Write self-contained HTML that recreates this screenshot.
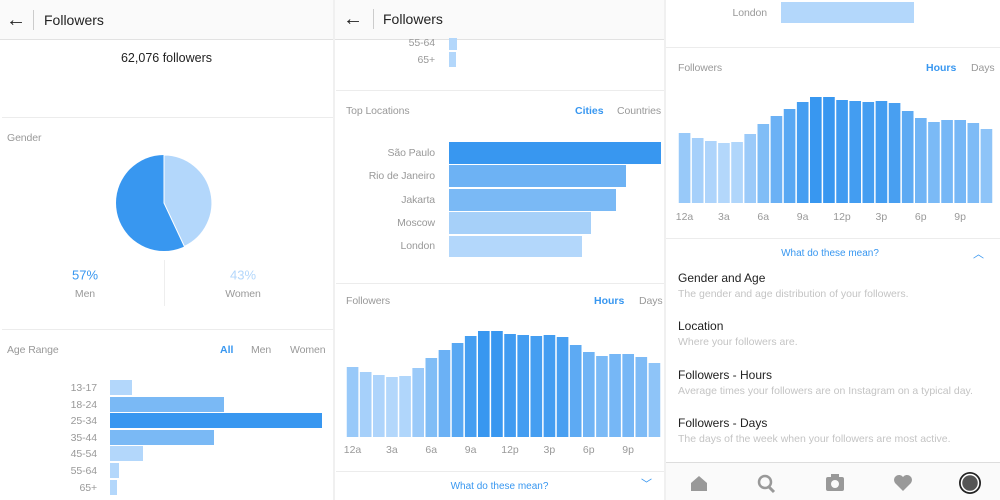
<!DOCTYPE html>
<html><head><meta charset="utf-8">
<style>
*{margin:0;padding:0;box-sizing:border-box}
body{width:1000px;height:500px;background:#fff;position:relative;overflow:hidden;font-family:"Liberation Sans",sans-serif}
.t{position:absolute;white-space:nowrap;line-height:1;transform:translateY(-50%)}
.g{color:#999;font-size:10.5px;letter-spacing:-0.1px}
.b{color:#3897f0;font-size:10.5px;font-weight:bold}
.hl{position:absolute;height:1px;background:#ececec}
.r{position:absolute}
.hdr{position:absolute;top:0;height:40px;background:#fafafa;border-bottom:1px solid #e2e2e2}
</style></head><body>
<div class="r" style="left:333px;top:0;width:2px;height:500px;background:#f0f0f0"></div>
<div class="r" style="left:664px;top:0;width:2px;height:500px;background:#f0f0f0"></div>

<!-- LEFT -->
<div class="hdr" style="left:0;width:333px"></div>
<div class="t" style="left:6px;top:20px;font-size:20px;color:#222">←</div>
<div class="r" style="left:33px;top:10px;width:1px;height:20px;background:#ccc"></div>
<div class="t" style="left:44px;top:20px;font-size:14px;color:#222">Followers</div>
<div class="t" style="left:0;width:333px;text-align:center;top:58px;font-size:12.5px;color:#222">62,076 followers</div>
<div class="hl" style="left:2px;width:331px;top:117px"></div>
<div class="t g" style="left:7px;top:138px">Gender</div>
<svg class="r" style="left:0;top:0" width="333" height="260">
<circle cx="164" cy="203" r="48" fill="#3897f0"/>
<path d="M164 203 L164 155 A48 48 0 0 1 184.4 246.4 Z" fill="#b3d7fb" stroke="#fff" stroke-width="1"/>
</svg>
<div class="t" style="left:0;width:170px;text-align:center;top:275px;font-size:13px;color:#3897f0">57%</div>
<div class="t g" style="left:0;width:170px;text-align:center;top:294px">Men</div>
<div class="t" style="left:158px;width:170px;text-align:center;top:275px;font-size:13px;color:#b3d7fb">43%</div>
<div class="t g" style="left:158px;width:170px;text-align:center;top:294px">Women</div>
<div class="r" style="left:164px;top:260px;width:1px;height:46px;background:#eee"></div>
<div class="hl" style="left:2px;width:331px;top:329px"></div>
<div class="t g" style="left:7px;top:350px">Age Range</div>
<div class="t b" style="left:220px;top:350px">All</div>
<div class="t g" style="left:251px;top:350px">Men</div>
<div class="t g" style="left:290px;top:350px">Women</div>
<div id="age"></div>

<!-- MIDDLE -->
<div class="hdr" style="left:335px;width:329px"></div>
<div class="t" style="left:343px;top:19px;font-size:20px;color:#222">←</div>
<div class="r" style="left:373px;top:9px;width:1px;height:20px;background:#ccc"></div>
<div class="t" style="left:383px;top:19px;font-size:14px;color:#222">Followers</div>
<div class="t g" style="left:380px;width:55px;text-align:right;top:43px">55-64</div>
<div class="r" style="left:449px;top:38px;width:8px;height:12px;background:#b3d7fb"></div>
<div class="t g" style="left:380px;width:55px;text-align:right;top:60px">65+</div>
<div class="r" style="left:449px;top:52px;width:7px;height:15px;background:#b3d7fb"></div>
<div class="hl" style="left:336px;width:328px;top:90px"></div>
<div class="t g" style="left:346px;top:111px">Top Locations</div>
<div class="t b" style="left:575px;top:111px">Cities</div>
<div class="t g" style="left:617px;top:111px">Countries</div>
<div class="t g" style="left:340px;width:95px;text-align:right;top:153px">São Paulo</div>
<div class="r" style="left:449px;top:142px;width:212px;height:22px;background:#3897f0"></div>
<div class="t g" style="left:340px;width:95px;text-align:right;top:176px">Rio de Janeiro</div>
<div class="r" style="left:449px;top:165px;width:177px;height:22px;background:#6db2f4"></div>
<div class="t g" style="left:340px;width:95px;text-align:right;top:200px">Jakarta</div>
<div class="r" style="left:449px;top:189px;width:167px;height:22px;background:#7ab9f5"></div>
<div class="t g" style="left:340px;width:95px;text-align:right;top:223px">Moscow</div>
<div class="r" style="left:449px;top:212px;width:142px;height:22px;background:#a6d0f9"></div>
<div class="t g" style="left:340px;width:95px;text-align:right;top:246px">London</div>
<div class="r" style="left:449px;top:236px;width:133px;height:21px;background:#b3d7fb"></div>
<div class="hl" style="left:336px;width:328px;top:283px"></div>
<div class="t g" style="left:346px;top:301px">Followers</div>
<div class="t b" style="left:594px;top:301px">Hours</div>
<div class="t g" style="left:639px;top:301px">Days</div>
<svg id="c1" class="r" style="left:0;top:0" width="1000" height="500"></svg>
<div class="hl" style="left:336px;width:328px;top:471px"></div>
<div class="t" style="left:335px;width:329px;text-align:center;top:487px;font-size:10px;color:#3897f0">What do these mean?</div>
<div class="t" style="left:641px;top:485px;font-size:11px;color:#3897f0">﹀</div>

<!-- RIGHT -->
<div class="t g" style="left:700px;width:67px;text-align:right;top:13px">London</div>
<div class="r" style="left:781px;top:2px;width:133px;height:21px;background:#b3d7fb"></div>
<div class="hl" style="left:666px;width:334px;top:47px"></div>
<div class="t g" style="left:678px;top:68px">Followers</div>
<div class="t b" style="left:926px;top:68px">Hours</div>
<div class="t g" style="left:971px;top:68px">Days</div>
<div class="hl" style="left:666px;width:334px;top:238px"></div>
<div class="t" style="left:666px;width:328px;text-align:center;top:254px;font-size:10px;color:#3897f0">What do these mean?</div>
<div class="t" style="left:973px;top:255px;font-size:11px;color:#3897f0">︿</div>
<div class="t" style="left:678px;top:278px;font-size:12px;color:#222">Gender and Age</div>
<div class="t" style="left:678px;top:294px;font-size:10.5px;color:#c4c4c4">The gender and age distribution of your followers.</div>
<div class="t" style="left:678px;top:326px;font-size:12px;color:#222">Location</div>
<div class="t" style="left:678px;top:342px;font-size:10.5px;color:#c4c4c4">Where your followers are.</div>
<div class="t" style="left:678px;top:375px;font-size:12px;color:#222">Followers - Hours</div>
<div class="t" style="left:678px;top:391px;font-size:10.5px;color:#c4c4c4">Average times your followers are on Instagram on a typical day.</div>
<div class="t" style="left:678px;top:423px;font-size:12px;color:#222">Followers - Days</div>
<div class="t" style="left:678px;top:439px;font-size:10.5px;color:#c4c4c4">The days of the week when your followers are most active.</div>
<div class="r" style="left:666px;top:462px;width:334px;height:38px;background:#fafafa;border-top:1px solid #ddd"></div>
<svg class="r" style="left:666px;top:462px" width="334" height="38">
<path d="M25 29 V21 L33 14 L41 21 V29 Z" fill="#999"/>
<circle cx="99" cy="20" r="6" fill="none" stroke="#999" stroke-width="2.5"/><line x1="103" y1="25" x2="108" y2="30" stroke="#999" stroke-width="3"/>
<rect x="160" y="15" width="18" height="14" rx="2" fill="#999"/><rect x="165" y="12" width="8" height="4" fill="#999"/><circle cx="169" cy="22" r="4" fill="#fafafa"/>
<path d="M237 29 L229 21 A4.5 4.5 0 0 1 237 15 A4.5 4.5 0 0 1 245 21 Z" fill="#999"/>
<circle cx="304" cy="21" r="11" fill="#222"/><circle cx="304" cy="21" r="8.5" fill="#555" stroke="#fff" stroke-width="1.5"/>
</svg>

<script>
var h=[70,65,62,60,61,69,79,87,94,101,106,106,103,102,101,102,100,92,85,81,83,83,80,74];
function col(v){var t=Math.max(0,Math.min(1,(v-60)/46));
var a=[179,215,251],b=[56,151,240];
return 'rgb('+a.map(function(x,i){return Math.round(x+(b[i]-x)*t)}).join(',')+')';}
var s='';
function chart(x0,base,lx,ly){var w=315/24;
for(var i=0;i<24;i++){s+='<rect x="'+(x0+i*w+0.75).toFixed(2)+'" y="'+(base-h[i])+'" width="'+(w-1.5).toFixed(2)+'" height="'+h[i]+'" fill="'+col(h[i])+'"/>';}
var L=['12a','3a','6a','9a','12p','3p','6p','9p'];
for(var j=0;j<8;j++){s+='<text x="'+(x0+6.5+j*3*w)+'" y="'+(ly+4)+'" font-size="10.5" fill="#999" text-anchor="middle" font-family="Liberation Sans, sans-serif">'+L[j]+'</text>';}}
chart(346,437,0,449);chart(678,203,0,216);
document.getElementById('c1').innerHTML=s;
var ages=[['13-17',22,'#b3d7fb'],['18-24',114,'#7ab9f5'],['25-34',212,'#3897f0'],['35-44',104,'#7ab9f5'],['45-54',33,'#b3d7fb'],['55-64',9,'#b3d7fb'],['65+',7,'#b3d7fb']];
var a='';
for(var k=0;k<7;k++){var y=380+k*16.6;
a+='<div class="t g" style="left:40px;width:57px;text-align:right;top:'+(y+8)+'px">'+ages[k][0]+'</div>';
a+='<div class="r" style="left:110px;top:'+y+'px;width:'+ages[k][1]+'px;height:15px;background:'+ages[k][2]+'"></div>';}
document.getElementById('age').innerHTML=a;
</script>
</body></html>
